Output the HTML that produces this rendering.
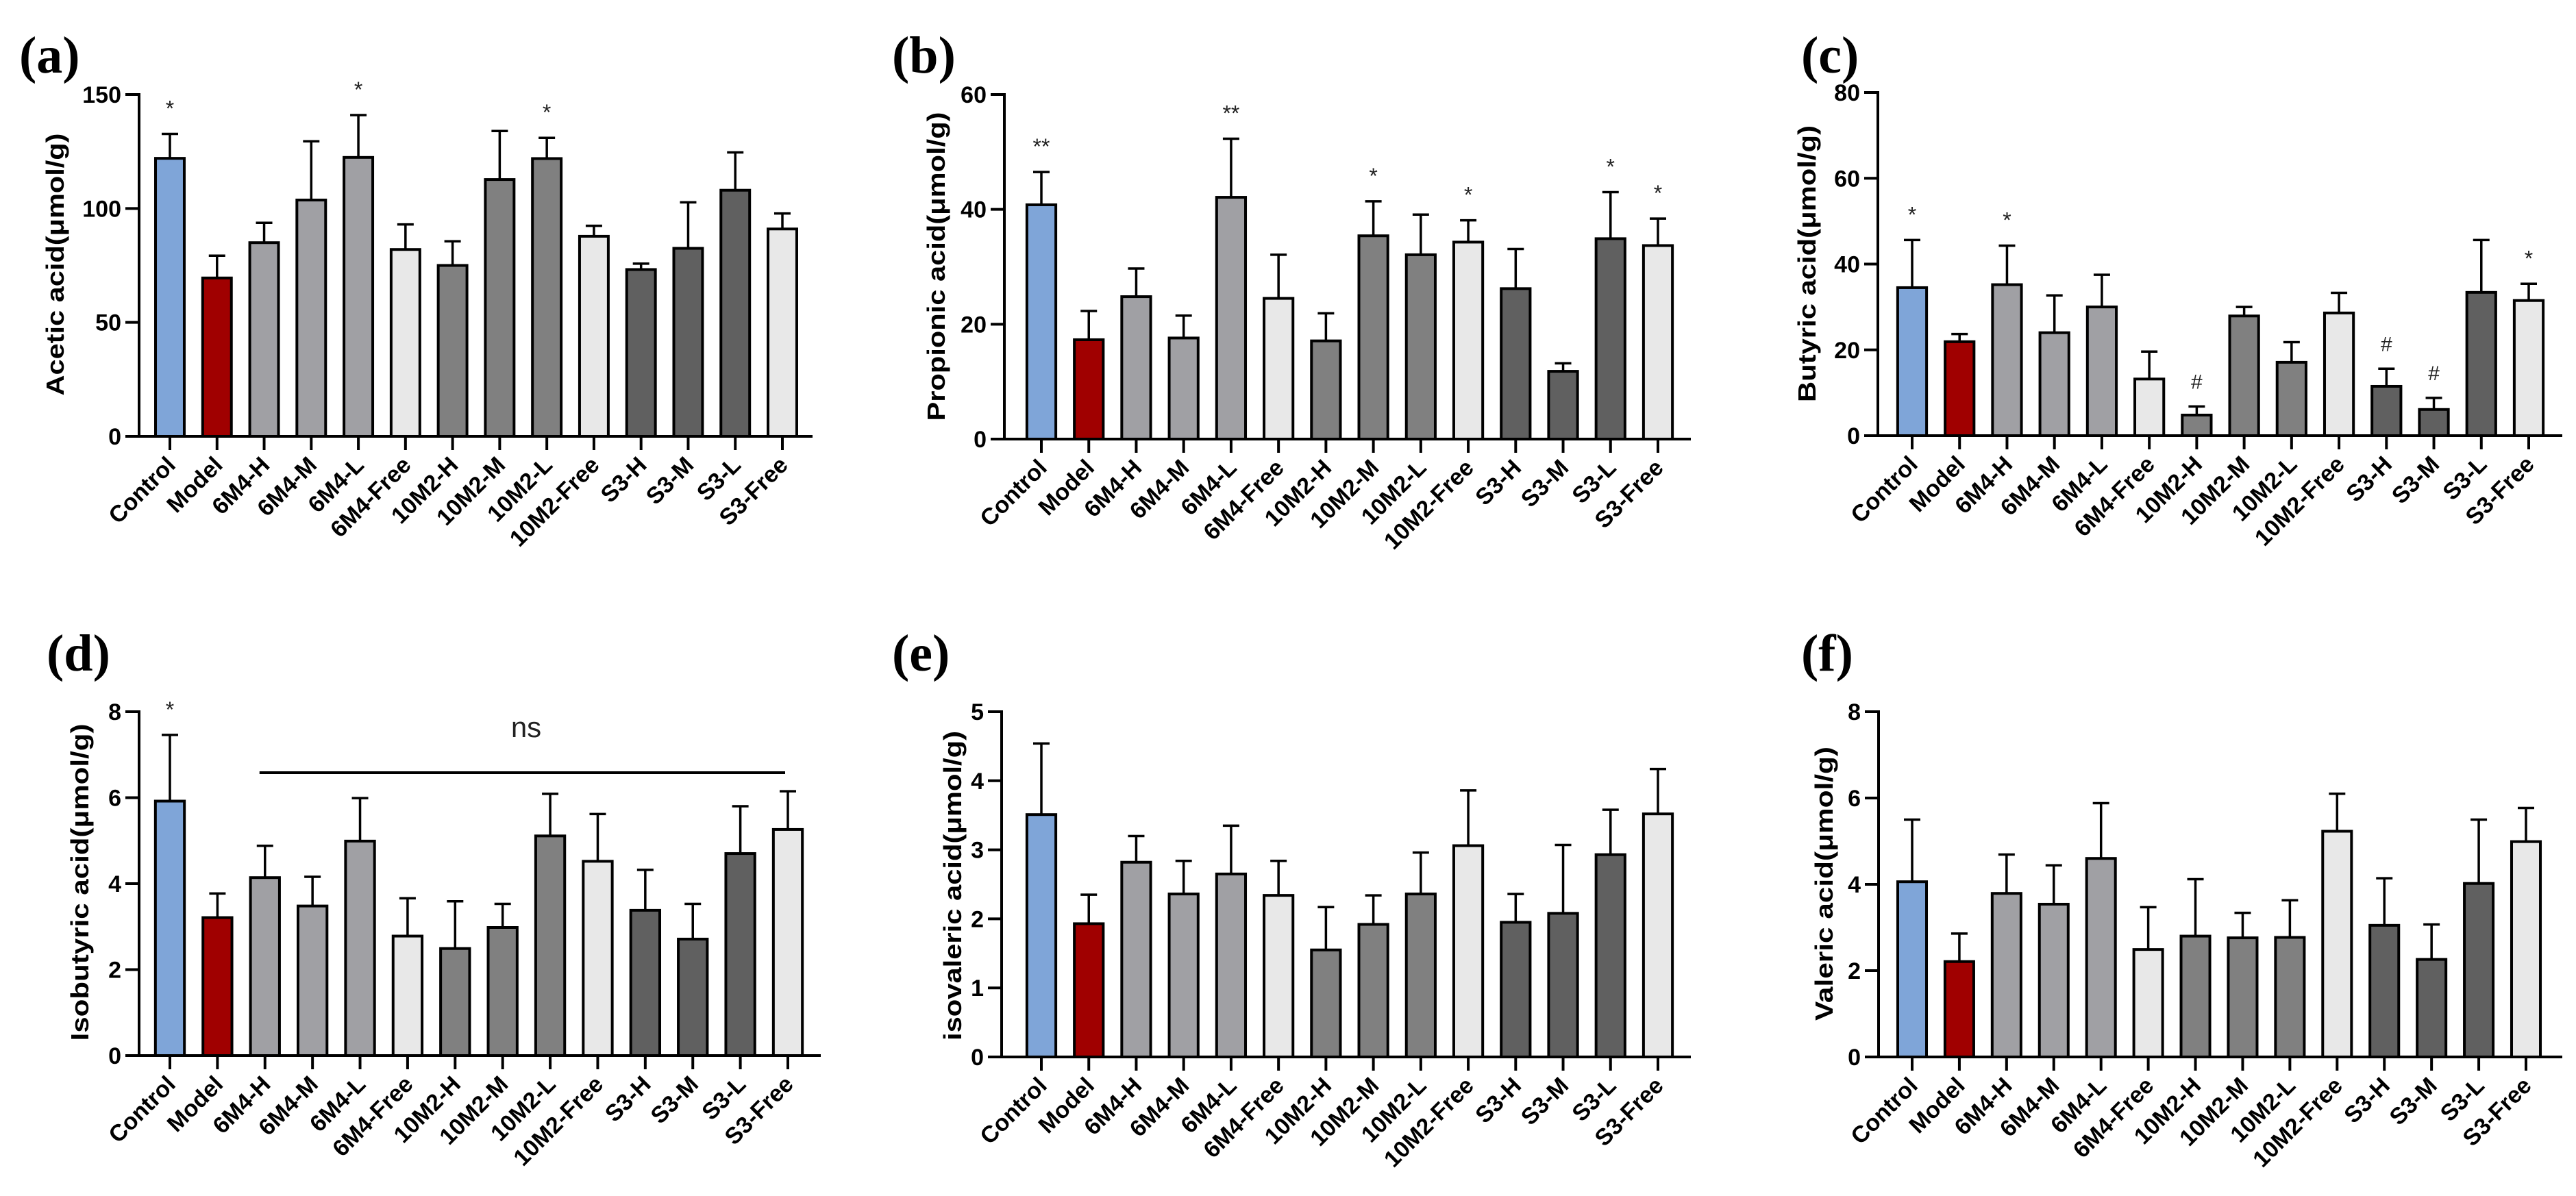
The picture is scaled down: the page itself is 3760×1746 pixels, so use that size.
<!DOCTYPE html>
<html><head><meta charset="utf-8"><style>
html,body{margin:0;padding:0;background:#fff;}
svg{display:block;}
text{font-family:"Liberation Sans",Arial,sans-serif;}
</style></head>
<body>
<svg id="fig" width="3760" height="1746" viewBox="0 0 3760 1746" xmlns="http://www.w3.org/2000/svg"></svg>
<script>
const categories = ["Control","Model","6M4-H","6M4-M","6M4-L","6M4-Free","10M2-H","10M2-M","10M2-L","10M2-Free","S3-H","S3-M","S3-L","S3-Free"];
const barColors = ["#7fa5d8","#a00000","#a0a0a4","#a0a0a4","#a0a0a4","#e8e8e8","#808080","#808080","#808080","#e8e8e8","#606060","#606060","#606060","#e8e8e8"];

const aceticMean = [122,69.5,85,103.7,122.4,82,75,112.7,121.9,87.8,73.2,82.5,108,91];
const aceticErr = [132.7,79.3,93.7,129.5,141,93,85.6,134,131,92.4,75.8,102.7,124.6,97.8];
const aceticMarks = ["*","","","","*","","","","*","","","","",""];
const aceticTicks = [0,50,100,150];

const propionicMean = [40.8,17.3,24.8,17.6,42.1,24.5,17.1,35.4,32.1,34.3,26.2,11.8,34.9,33.7];
const propionicErr = [46.5,22.3,29.7,21.5,52.3,32.1,21.9,41.4,39.1,38.1,33.1,13.2,43,38.4];
const propionicMarks = ["**","","","","**","","","*","","*","","","*","*"];
const propionicTicks = [0,20,40,60];

const butyricMean = [34.5,21.9,35.2,24,30,13.2,4.8,27.9,17.1,28.6,11.5,6.1,33.4,31.5];
const butyricErr = [45.6,23.7,44.3,32.7,37.5,19.6,6.8,30,21.8,33.3,15.6,8.8,45.6,35.4];
const butyricMarks = ["*","","*","","","","#","","","","#","#","","*"];
const butyricTicks = [0,20,40,60,80];

const isobutyricMean = [5.92,3.21,4.14,3.48,4.99,2.78,2.49,2.98,5.11,4.52,3.38,2.71,4.7,5.26];
const isobutyricErr = [7.46,3.77,4.88,4.16,5.99,3.66,3.59,3.53,6.09,5.62,4.32,3.53,5.8,6.15];
const isobutyricMarks = ["*","","","","","","","","","","","","",""];
const isobutyricTicks = [0,2,4,6,8];

const isovalericMean = [3.51,1.93,2.82,2.36,2.65,2.34,1.55,1.92,2.36,3.06,1.95,2.08,2.93,3.52];
const isovalericErr = [4.54,2.35,3.2,2.84,3.35,2.84,2.17,2.34,2.96,3.86,2.36,3.07,3.58,4.17];
const isovalericMarks = ["","","","","","","","","","","","","",""];
const isovalericTicks = [0,1,2,3,4,5];

const valericMean = [4.06,2.21,3.79,3.54,4.6,2.49,2.8,2.76,2.77,5.23,3.05,2.26,4.02,4.99];
const valericErr = [5.5,2.86,4.69,4.44,5.88,3.47,4.12,3.34,3.63,6.1,4.14,3.07,5.5,5.77];
const valericMarks = ["","","","","","","","","","","","","",""];
const valericTicks = [0,2,4,6,8];

const NS = "http://www.w3.org/2000/svg";
const svg = document.getElementById("fig");
function mk(tag, attrs, parent){
  const e = document.createElementNS(NS, tag);
  for (const k in attrs) e.setAttribute(k, attrs[k]);
  (parent||svg).appendChild(e);
  return e;
}

const panels = [
  {id:"a", title:"Acetic acid(μmol/g)", mean:aceticMean, err:aceticErr, marks:aceticMarks, ticks:aceticTicks,
   ax:203, x0:248, x1:1142, xend:1186, yTop:138, y0:637, lx:28, ly:102, tx:80, ty:386, tlen:383},
  {id:"b", title:"Propionic acid(μmol/g)", mean:propionicMean, err:propionicErr, marks:propionicMarks, ticks:propionicTicks,
   ax:1466, x0:1520, x1:2420, xend:2468, yTop:138, y0:641, lx:1302, ly:102, tx:1366, ty:389, tlen:451},
  {id:"c", title:"Butyric acid(μmol/g)", mean:butyricMean, err:butyricErr, marks:butyricMarks, ticks:butyricTicks,
   ax:2741, x0:2791, x1:3691, xend:3740, yTop:135, y0:636, lx:2629, ly:102, tx:2637, ty:385, tlen:404},
  {id:"d", title:"Isobutyric acid(μmol/g)", mean:isobutyricMean, err:isobutyricErr, marks:isobutyricMarks, ticks:isobutyricTicks,
   ax:203, x0:248, x1:1150, xend:1198, yTop:1039, y0:1541, lx:68, ly:975, tx:116, ty:1288, tlen:463},
  {id:"e", title:"isovaleric acid(μmol/g)", mean:isovalericMean, err:isovalericErr, marks:isovalericMarks, ticks:isovalericTicks,
   ax:1462, x0:1520, x1:2420, xend:2468, yTop:1039, y0:1543, lx:1302, ly:975, tx:1390, ty:1293, tlen:452},
  {id:"f", title:"Valeric acid(μmol/g)", mean:valericMean, err:valericErr, marks:valericMarks, ticks:valericTicks,
   ax:2742, x0:2791, x1:3687, xend:3740, yTop:1039, y0:1543, lx:2629, ly:975, tx:2662, ty:1290, tlen:400}
];

panels.forEach(p => {
  const g = mk("g", {});
  
  
  const ymax = p.ticks[p.ticks.length-1];
  const yS = v => p.y0 - (v / ymax) * (p.y0 - p.yTop);
  const step = (p.x1 - p.x0) / (categories.length - 1);
  const xS = i => p.x0 + i * step;
  const bw = step * 0.61;

  const lab = mk("text", {x:p.lx, y:p.ly + 4, style:"font-family:'Liberation Serif',serif;font-weight:bold;font-size:76px;"}, g);
  lab.textContent = "(" + p.id + ")";
  
  

  const tt = mk("text", {x:0, y:0, transform:`translate(${p.tx + 13},${p.ty}) rotate(-90)`, "text-anchor":"middle", "font-weight":"bold", "font-size":"36", textLength:p.tlen, lengthAdjust:"spacingAndGlyphs"}, g);
  tt.textContent = p.title;
  
  

  p.mean.forEach((v, i) => {
    const cx = xS(i);
    const yt = yS(p.err[i]);
    const eb = mk("path", {d:`M${cx},${yS(v)} V${yt} M${cx-12},${yt} H${cx+12}`, stroke:"#000", "stroke-width":"3.5", fill:"none"}, g);
    
    
    const r = mk("rect", {x:cx - bw/2, y:yS(v), width:bw, height:p.y0 - yS(v), fill:barColors[i], stroke:"#000", "stroke-width":"4"}, g);
    
    
    if (p.marks[i]) {
      const m = mk("text", {x:cx, y:yt - 26, "text-anchor":"middle", "font-size": p.marks[i]==="#" ? "30" : "32", fill:"#222"}, g);
      m.textContent = p.marks[i];
      
      
    }
    const tk = mk("line", {x1:cx, y1:p.y0, x2:cx, y2:p.y0 + 20, stroke:"#000", "stroke-width":"4"}, g);
    
    
    const xl = mk("text", {x:0, y:0, transform:`translate(${cx + 10},${p.y0 + 44}) rotate(-45)`, "text-anchor":"end", "font-weight":"bold", "font-size":"34"}, g);
    xl.textContent = categories[i];
    
    
  });

  const ya = mk("line", {x1:p.ax, y1:p.yTop - 2, x2:p.ax, y2:p.y0, stroke:"#000", "stroke-width":"4"}, g);
  
  
  const xa = mk("line", {x1:p.ax - 20, y1:p.y0, x2:p.xend, y2:p.y0, stroke:"#000", "stroke-width":"4"}, g);
  
  
  p.ticks.forEach(t => {
    const y = yS(t);
    const tl = mk("line", {x1:p.ax - 20, y1:y, x2:p.ax, y2:y, stroke:"#000", "stroke-width":"4"}, g);
    
    
    const tx = mk("text", {x:p.ax - 26, y:y + 12, "text-anchor":"end", "font-weight":"bold", "font-size":"34"}, g);
    tx.textContent = t;
    
    
  });

  if (p.id === "d") {
    const nl = mk("line", {x1:xS(2) - 8, y1:1128, x2:xS(13) - 4, y2:1128, stroke:"#000", "stroke-width":"4"}, g);
    
    
    const nt = mk("text", {x:768, y:1076, "text-anchor":"middle", "font-size":"42", fill:"#222"}, g);
    nt.textContent = "ns";
    
    
  }
});
</script>
</body></html>
